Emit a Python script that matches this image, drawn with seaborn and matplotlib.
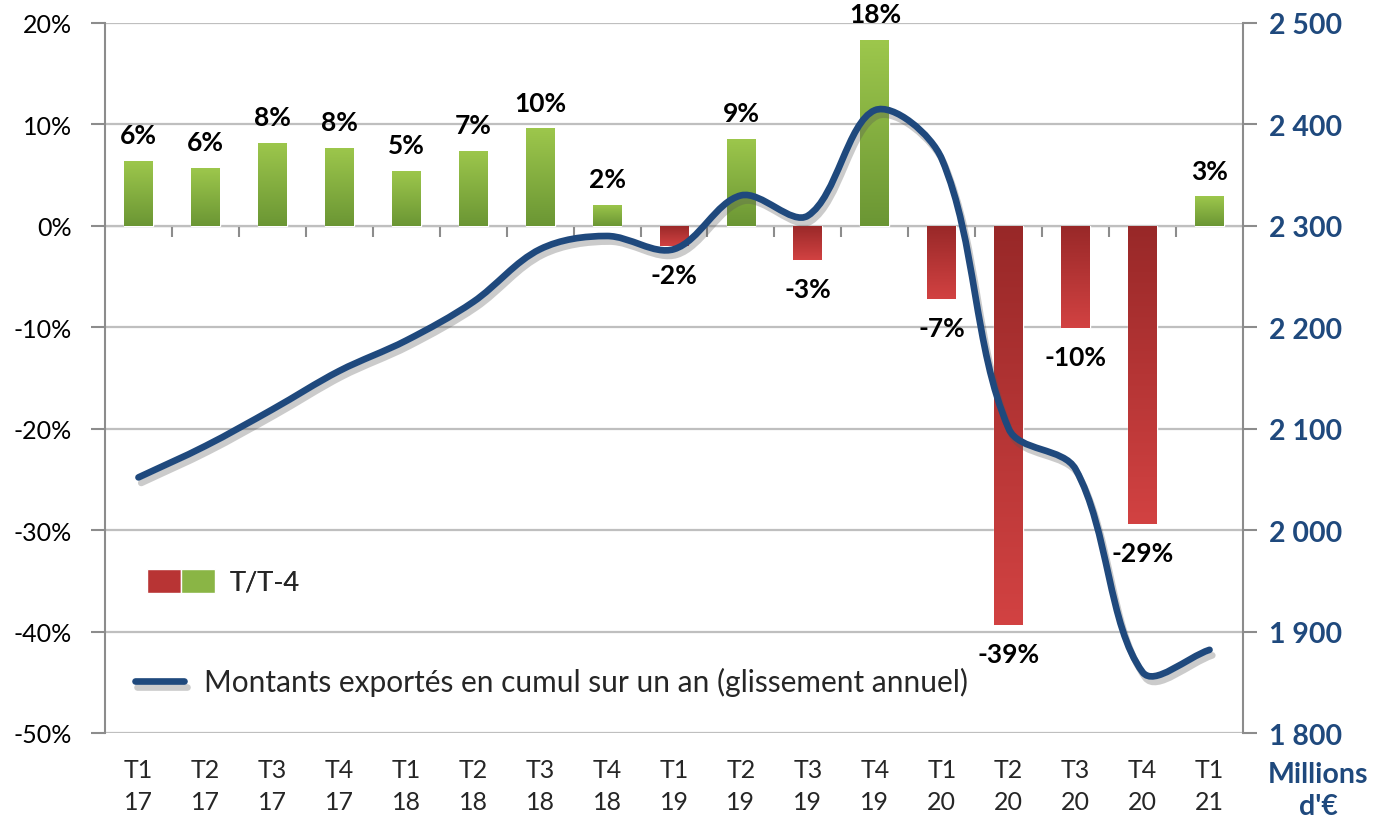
import numpy as np
import pandas as pd
import matplotlib
matplotlib.use("Agg")
import matplotlib.pyplot as plt
import matplotlib.patheffects as pe
import seaborn as sns
from matplotlib.path import Path
from matplotlib.patches import PathPatch, Patch
from matplotlib.lines import Line2D
from matplotlib.legend_handler import HandlerTuple
from matplotlib.colors import LinearSegmentedColormap

# Data
quarters = ["T1\n17", "T2\n17", "T3\n17", "T4\n17", "T1\n18", "T2\n18", "T3\n18", "T4\n18",
            "T1\n19", "T2\n19", "T3\n19", "T4\n19", "T1\n20", "T2\n20", "T3\n20", "T4\n20", "T1\n21"]
growth = [6.4, 5.7, 8.2, 7.7, 5.4, 7.4, 9.6, 2.1, -2.0, 8.6, -3.4, 18.3, -7.2, -39.4, -10.1, -29.4, 2.9]
exports = [2052, 2083, 2119, 2157, 2187, 2225, 2277, 2290, 2277, 2330, 2310, 2414, 2366, 2100, 2060, 1860, 1882]
pct_ticks = [20, 10, 0, -10, -20, -30, -40, -50]
eur_ticks = [2500, 2400, 2300, 2200, 2100, 2000, 1900, 1800]

BLUE = "#1F497D"
GRID = "#BFBFBF"
SPINE = "#8C8C8C"

sns.set_style("white")
plt.rcParams["font.family"] = ["Lato", "DejaVu Sans"]

df = pd.DataFrame({"quarter": quarters, "growth": growth})
df["sign"] = np.where(df["growth"] >= 0, "pos", "neg")

fig = plt.figure(figsize=(13.75, 8.29), dpi=100)
ax = fig.add_axes([105 / 1375, 1 - 734 / 829, 1138 / 1375, 710 / 829])

sns.barplot(data=df, x="quarter", y="growth", hue="sign", dodge=False, width=0.43,
            palette={"pos": "#8AB545", "neg": "#B83434"}, legend=False, ax=ax, zorder=2)

# gradient fill, darker near zero and lighter towards the bar end
cmaps = {"pos": LinearSegmentedColormap.from_list("g", ["#6B9634", "#9DC74C"]),
         "neg": LinearSegmentedColormap.from_list("r", ["#982828", "#D24242"])}
grad = np.linspace(0, 1, 256).reshape(-1, 1)
bars = [p for p in ax.patches if p.get_height() != 0 and np.isfinite(p.get_height())]
for patch in bars:
    h = patch.get_height()
    x0 = patch.get_x()
    w = patch.get_width()
    cm = cmaps["pos"] if h > 0 else cmaps["neg"]
    im = ax.imshow(grad, cmap=cm, aspect="auto", origin="lower",
                   extent=[x0, x0 + w, 0, h], zorder=2.5)
    im.set_clip_path(patch)

# data labels
for patch in bars:
    h = patch.get_height()
    xc = patch.get_x() + patch.get_width() / 2
    ax.annotate(f"{h:.0f}%", (xc, h), xytext=(0, 10 if h > 0 else -12), textcoords="offset points",
                ha="center", va="bottom" if h > 0 else "top", fontsize=19,
                fontweight="bold", color="black", annotation_clip=False, zorder=6)

ax.set_xlim(-0.5, len(quarters) - 0.5)
ax.set_ylim(-50, 20)
ax.set_yticks(pct_ticks)
ax.set_yticklabels([f"{t}%" for t in pct_ticks])
ax.yaxis.grid(True, color=GRID, linewidth=1.6)
ax.set_axisbelow(True)
ax.set_xlabel("")
ax.set_ylabel("")
ax.tick_params(axis="y", length=10, width=1.5, color=SPINE, direction="out", pad=14,
               labelsize=18, labelcolor="black", left=True)
ax.tick_params(axis="x", length=0, pad=18, labelsize=18)
ax.set_xticks(range(len(quarters)))
ax.set_xticklabels(quarters, linespacing=1.45)
for side in ["top", "bottom", "right"]:
    ax.spines[side].set_visible(False)
ax.spines["left"].set_color(SPINE)
ax.spines["left"].set_linewidth(1.5)

# category axis line at 0 with ticks between categories (pointing down)
zero_ax = ax.secondary_xaxis(50 / 70)
zero_ax.set_xticks(np.arange(0.5, len(quarters) - 1, 1))
zero_ax.tick_params(length=8, width=1.5, color=SPINE, direction="in", labelbottom=False,
                    labeltop=False)
zero_ax.spines["bottom"].set_color(SPINE)
zero_ax.spines["bottom"].set_linewidth(2)

# right axis with the exported amounts
ax2 = ax.twinx()
ax2.set_ylim(1800, 2500)
ax2.set_yticks(eur_ticks)
ax2.set_yticklabels([f"{t:,}".replace(",", " ") for t in eur_ticks])
ax2.tick_params(axis="y", length=10, width=1.5, color=SPINE, direction="out", pad=9,
                labelsize=20.5, labelcolor=BLUE, right=True)
for lab in ax2.get_yticklabels():
    lab.set_fontweight("bold")
for side in ["top", "bottom", "left"]:
    ax2.spines[side].set_visible(False)
ax2.spines["right"].set_color(SPINE)
ax2.spines["right"].set_linewidth(1.5)
ax2.grid(False)

# smooth curve through the points, Excel-like: Bezier with control points scaled by
# the neighbouring segment lengths on screen
pts = ax2.transData.transform(np.column_stack([np.arange(len(exports)), exports]).astype(float))
ext = np.vstack([pts[0], pts, pts[-1]])
f = 0.34
verts = [pts[0]]
codes = [Path.MOVETO]
for i in range(1, len(ext) - 2):
    p0, p1, p2, p3 = ext[i - 1], ext[i], ext[i + 1], ext[i + 2]
    d01 = np.hypot(*(p1 - p0))
    d12 = np.hypot(*(p2 - p1))
    d23 = np.hypot(*(p3 - p2))
    c1 = p1 + (p2 - p0) * f * d12 / (d01 + d12)
    c2 = p2 - (p3 - p1) * f * d12 / (d12 + d23)
    verts += [c1, c2, p2]
    codes += [Path.CURVE4] * 3
verts = ax2.transData.inverted().transform(np.array(verts))
shadow = [pe.SimpleLineShadow(offset=(2, -4), shadow_color="#555555", alpha=0.3), pe.Normal()]
curve = PathPatch(Path(verts, codes), fill=False, edgecolor=BLUE, linewidth=4.8,
                  capstyle="round", joinstyle="round", zorder=5)
curve.set_path_effects(shadow)
ax2.add_patch(curve)

# legends
bar_handle = (Patch(facecolor="#B83434"), Patch(facecolor="#8AB545"))
leg1 = ax.legend([bar_handle], ["T/T-4"], handler_map={tuple: HandlerTuple(ndivide=None, pad=0)},
                 loc="center left", bbox_to_anchor=(0.037, 0.213), frameon=False, fontsize=19.5,
                 handlelength=2.5, handleheight=1.0, handletextpad=0.55, borderpad=0,
                 borderaxespad=0)
ax.add_artist(leg1)
line_handle = Line2D([], [], color=BLUE, linewidth=4.8, path_effects=shadow)
ax2.legend([line_handle], ["Montants exportés en cumul sur un an (glissement annuel)"],
           loc="center left", bbox_to_anchor=(0.026, 0.072), frameon=False, fontsize=21.5,
           handlelength=1.67, handletextpad=0.67, borderpad=0, borderaxespad=0)

fig.text(1318 / 1375, 1 - 791 / 829, "Millions\nd'€", ha="center", va="center",
         fontsize=20.5, fontweight="bold", color=BLUE, linespacing=1.3)

fig.savefig("out.png", dpi=100)
